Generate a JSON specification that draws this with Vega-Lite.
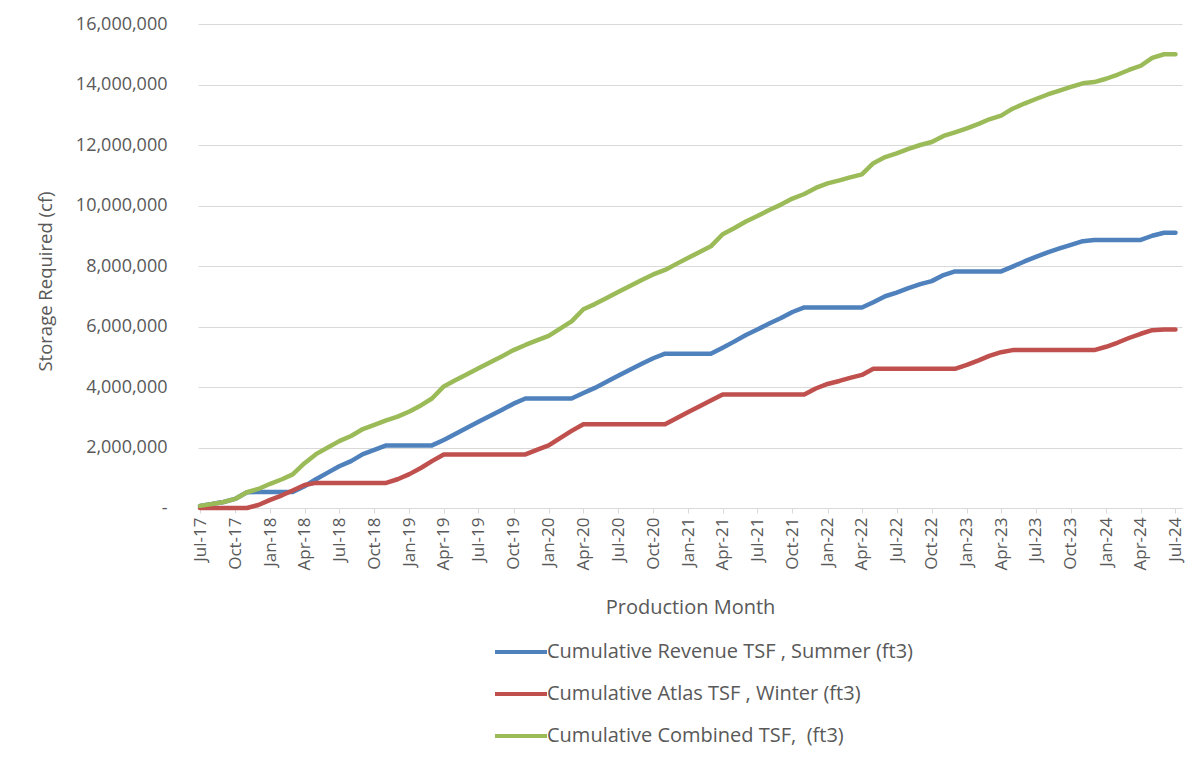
{
  "$schema": "https://vega.github.io/schema/vega-lite/v6.json",
  "autosize": {"type": "none"},
  "padding": {"left": 198, "top": 24, "right": 14, "bottom": 255},
  "width": 984,
  "height": 484,
  "background": "white",
  "config": {"view": {"stroke": null}, "font": "Open Sans"},
  "data": {"values": [
    {"month": "2017/07/01", "rev": 70000, "atlas": 0, "comb": 70000},
    {"month": "2017/08/01", "rev": 130000, "atlas": 0, "comb": 130000},
    {"month": "2017/09/01", "rev": 200000, "atlas": 0, "comb": 200000},
    {"month": "2017/10/01", "rev": 300000, "atlas": 0, "comb": 300000},
    {"month": "2017/11/01", "rev": 520000, "atlas": 0, "comb": 520000},
    {"month": "2017/12/01", "rev": 530000, "atlas": 100000, "comb": 630000},
    {"month": "2018/01/01", "rev": 530000, "atlas": 270000, "comb": 800000},
    {"month": "2018/02/01", "rev": 530000, "atlas": 420000, "comb": 950000},
    {"month": "2018/03/01", "rev": 530000, "atlas": 580000, "comb": 1110000},
    {"month": "2018/04/01", "rev": 720000, "atlas": 760000, "comb": 1480000},
    {"month": "2018/05/01", "rev": 950000, "atlas": 830000, "comb": 1780000},
    {"month": "2018/06/01", "rev": 1170000, "atlas": 830000, "comb": 2000000},
    {"month": "2018/07/01", "rev": 1380000, "atlas": 830000, "comb": 2210000},
    {"month": "2018/08/01", "rev": 1550000, "atlas": 830000, "comb": 2380000},
    {"month": "2018/09/01", "rev": 1780000, "atlas": 830000, "comb": 2610000},
    {"month": "2018/10/01", "rev": 1920000, "atlas": 830000, "comb": 2750000},
    {"month": "2018/11/01", "rev": 2070000, "atlas": 830000, "comb": 2900000},
    {"month": "2018/12/01", "rev": 2070000, "atlas": 950000, "comb": 3020000},
    {"month": "2019/01/01", "rev": 2070000, "atlas": 1120000, "comb": 3190000},
    {"month": "2019/02/01", "rev": 2070000, "atlas": 1330000, "comb": 3400000},
    {"month": "2019/03/01", "rev": 2070000, "atlas": 1550000, "comb": 3620000},
    {"month": "2019/04/01", "rev": 2250000, "atlas": 1770000, "comb": 4020000},
    {"month": "2019/05/01", "rev": 2450000, "atlas": 1770000, "comb": 4220000},
    {"month": "2019/06/01", "rev": 2650000, "atlas": 1770000, "comb": 4420000},
    {"month": "2019/07/01", "rev": 2850000, "atlas": 1770000, "comb": 4620000},
    {"month": "2019/08/01", "rev": 3050000, "atlas": 1770000, "comb": 4820000},
    {"month": "2019/09/01", "rev": 3250000, "atlas": 1770000, "comb": 5020000},
    {"month": "2019/10/01", "rev": 3450000, "atlas": 1770000, "comb": 5220000},
    {"month": "2019/11/01", "rev": 3620000, "atlas": 1770000, "comb": 5390000},
    {"month": "2019/12/01", "rev": 3620000, "atlas": 1920000, "comb": 5540000},
    {"month": "2020/01/01", "rev": 3620000, "atlas": 2070000, "comb": 5690000},
    {"month": "2020/02/01", "rev": 3620000, "atlas": 2320000, "comb": 5940000},
    {"month": "2020/03/01", "rev": 3620000, "atlas": 2550000, "comb": 6170000},
    {"month": "2020/04/01", "rev": 3800000, "atlas": 2770000, "comb": 6570000},
    {"month": "2020/05/01", "rev": 3970000, "atlas": 2770000, "comb": 6740000},
    {"month": "2020/06/01", "rev": 4170000, "atlas": 2770000, "comb": 6940000},
    {"month": "2020/07/01", "rev": 4370000, "atlas": 2770000, "comb": 7140000},
    {"month": "2020/08/01", "rev": 4570000, "atlas": 2770000, "comb": 7340000},
    {"month": "2020/09/01", "rev": 4770000, "atlas": 2770000, "comb": 7540000},
    {"month": "2020/10/01", "rev": 4950000, "atlas": 2770000, "comb": 7720000},
    {"month": "2020/11/01", "rev": 5100000, "atlas": 2770000, "comb": 7870000},
    {"month": "2020/12/01", "rev": 5100000, "atlas": 2970000, "comb": 8070000},
    {"month": "2021/01/01", "rev": 5100000, "atlas": 3170000, "comb": 8270000},
    {"month": "2021/02/01", "rev": 5100000, "atlas": 3370000, "comb": 8470000},
    {"month": "2021/03/01", "rev": 5100000, "atlas": 3550000, "comb": 8650000},
    {"month": "2021/04/01", "rev": 5300000, "atlas": 3750000, "comb": 9050000},
    {"month": "2021/05/01", "rev": 5500000, "atlas": 3750000, "comb": 9250000},
    {"month": "2021/06/01", "rev": 5720000, "atlas": 3750000, "comb": 9470000},
    {"month": "2021/07/01", "rev": 5900000, "atlas": 3750000, "comb": 9650000},
    {"month": "2021/08/01", "rev": 6100000, "atlas": 3750000, "comb": 9850000},
    {"month": "2021/09/01", "rev": 6280000, "atlas": 3750000, "comb": 10030000},
    {"month": "2021/10/01", "rev": 6480000, "atlas": 3750000, "comb": 10230000},
    {"month": "2021/11/01", "rev": 6630000, "atlas": 3750000, "comb": 10380000},
    {"month": "2021/12/01", "rev": 6630000, "atlas": 3950000, "comb": 10580000},
    {"month": "2022/01/01", "rev": 6630000, "atlas": 4100000, "comb": 10730000},
    {"month": "2022/02/01", "rev": 6630000, "atlas": 4200000, "comb": 10830000},
    {"month": "2022/03/01", "rev": 6630000, "atlas": 4300000, "comb": 10930000},
    {"month": "2022/04/01", "rev": 6630000, "atlas": 4400000, "comb": 11030000},
    {"month": "2022/05/01", "rev": 6800000, "atlas": 4600000, "comb": 11400000},
    {"month": "2022/06/01", "rev": 7000000, "atlas": 4600000, "comb": 11600000},
    {"month": "2022/07/01", "rev": 7120000, "atlas": 4600000, "comb": 11720000},
    {"month": "2022/08/01", "rev": 7270000, "atlas": 4600000, "comb": 11870000},
    {"month": "2022/09/01", "rev": 7400000, "atlas": 4600000, "comb": 12000000},
    {"month": "2022/10/01", "rev": 7500000, "atlas": 4600000, "comb": 12100000},
    {"month": "2022/11/01", "rev": 7700000, "atlas": 4600000, "comb": 12300000},
    {"month": "2022/12/01", "rev": 7820000, "atlas": 4600000, "comb": 12420000},
    {"month": "2023/01/01", "rev": 7820000, "atlas": 4730000, "comb": 12550000},
    {"month": "2023/02/01", "rev": 7820000, "atlas": 4880000, "comb": 12700000},
    {"month": "2023/03/01", "rev": 7820000, "atlas": 5030000, "comb": 12850000},
    {"month": "2023/04/01", "rev": 7820000, "atlas": 5150000, "comb": 12970000},
    {"month": "2023/05/01", "rev": 7980000, "atlas": 5220000, "comb": 13200000},
    {"month": "2023/06/01", "rev": 8150000, "atlas": 5220000, "comb": 13370000},
    {"month": "2023/07/01", "rev": 8300000, "atlas": 5220000, "comb": 13520000},
    {"month": "2023/08/01", "rev": 8450000, "atlas": 5220000, "comb": 13670000},
    {"month": "2023/09/01", "rev": 8580000, "atlas": 5220000, "comb": 13800000},
    {"month": "2023/10/01", "rev": 8700000, "atlas": 5220000, "comb": 13920000},
    {"month": "2023/11/01", "rev": 8820000, "atlas": 5220000, "comb": 14040000},
    {"month": "2023/12/01", "rev": 8860000, "atlas": 5220000, "comb": 14080000},
    {"month": "2024/01/01", "rev": 8860000, "atlas": 5330000, "comb": 14190000},
    {"month": "2024/02/01", "rev": 8860000, "atlas": 5470000, "comb": 14330000},
    {"month": "2024/03/01", "rev": 8860000, "atlas": 5620000, "comb": 14480000},
    {"month": "2024/04/01", "rev": 8860000, "atlas": 5760000, "comb": 14620000},
    {"month": "2024/05/01", "rev": 9000000, "atlas": 5880000, "comb": 14880000},
    {"month": "2024/06/01", "rev": 9100000, "atlas": 5900000, "comb": 15000000},
    {"month": "2024/07/01", "rev": 9100000, "atlas": 5900000, "comb": 15000000}
  ]},
  "transform": [{"fold": ["rev", "atlas", "comb"], "as": ["series", "value"]}],
  "mark": {"type": "line", "strokeWidth": 4.5, "strokeJoin": "round", "strokeCap": "round"},
  "encoding": {
    "x": {
      "field": "month", "type": "temporal",
      "scale": {"domain": [{"year": 2017, "month": 6, "date": 25, "hours": 18}, {"year": 2024, "month": 7, "date": 18, "hours": 1}], "nice": false},
      "axis": {
        "title": "Production Month",
        "format": "%b-%y",
        "tickCount": {"interval": "month", "step": 3},
        "labelAngle": -90,
        "labelFontSize": 17,
        "labelColor": "#595959",
        "labelPadding": 4,
        "labelOverlap": false,
        "labelFlush": false,
        "grid": false,
        "domainColor": "#d9d9d9",
        "domainWidth": 1,
        "tickColor": "#d9d9d9",
        "tickSize": 5,
        "titleFontSize": 20,
        "titleFontWeight": "normal",
        "titleColor": "#595959",
        "titleY": 99,
        "titleBaseline": "middle"
      }
    },
    "y": {
      "field": "value", "type": "quantitative",
      "scale": {"domain": [0, 16000000], "nice": false, "zero": true},
      "axis": {
        "title": "Storage Required (cf)",
        "values": [0, 2000000, 4000000, 6000000, 8000000, 10000000, 12000000, 14000000, 16000000],
        "labelExpr": "datum.value === 0 ? '-' : format(datum.value, ',')",
        "labelFontSize": 18,
        "labelColor": "#595959",
        "labelPadding": 31,
        "ticks": false,
        "tickSize": 0,
        "domain": false,
        "grid": true,
        "gridColor": "#d9d9d9",
        "gridWidth": 1,
        "titleFontSize": 18.5,
        "titleFontWeight": "normal",
        "titleColor": "#595959",
        "titleX": -153,
        "titleY": 257,
        "titleAngle": -90,
        "titleAlign": "center",
        "titleBaseline": "middle"
      }
    },
    "color": {
      "field": "series", "type": "nominal",
      "scale": {"domain": ["rev", "atlas", "comb"], "range": ["#4F81BD", "#C0504D", "#9BBB59"]},
      "legend": {
        "title": null,
        "orient": "none",
        "legendX": 295,
        "legendY": 600,
        "direction": "vertical",
        "symbolType": "stroke",
        "symbolSize": 2704,
        "symbolStrokeWidth": 4,
        "labelFontSize": 20,
        "labelColor": "#595959",
        "labelOffset": -2,
        "rowPadding": 4,
        "padding": 0,
        "labelLimit": 600,
        "labelExpr": "datum.label == 'rev' ? 'Cumulative Revenue TSF , Summer (ft3)' : datum.label == 'atlas' ? 'Cumulative Atlas TSF , Winter (ft3)' : 'Cumulative Combined TSF,\u00a0 (ft3)'"
      }
    }
  }
}
